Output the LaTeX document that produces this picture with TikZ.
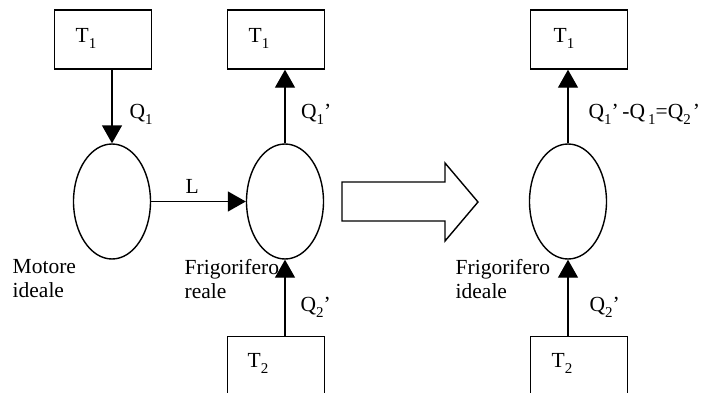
\documentclass[tikz,border=0pt]{standalone}
\usepackage{fontspec}
\setmainfont{Liberation Serif}
\usetikzlibrary{arrows.meta,shapes.geometric}
\newcommand{\sbs}[1]{\raisebox{-6pt}{\fontsize{15}{15}\selectfont #1}}
\begin{document}
\begin{tikzpicture}[x=1pt,y=-1pt,line width=1.4pt,
  res/.style={draw,rectangle,minimum width=97pt,minimum height=59pt,inner sep=0pt},
  mach/.style={draw,ellipse,minimum width=77pt,minimum height=115pt,inner sep=0pt},
  lab/.style={anchor=base west,inner sep=0pt,font=\fontsize{21.5}{23.5}\selectfont},
  note/.style={anchor=north west,inner sep=0pt,align=left,font=\fontsize{21.5}{23.5}\selectfont},
  flow/.style={-{Triangle[length=18pt,width=20pt]}}]
\clip (0,0) rectangle (713,392);
% reservoirs
\node[res] (h1) at (103,39.5) {};
\node[res] (h2) at (276,39.5) {};
\node[res] (h3) at (579,39.5) {};
\node[res] (c2) at (276,366) {};
\node[res] (c3) at (579,366) {};
% machines
\node[mach] (e1) at (112,201.5) {};
\node[mach] (e2) at (285,201.5) {};
\node[mach] (e3) at (568,201.5) {};
% reservoir labels
\node[lab] (th1) at (75,42.5) {T\sbs{1}};
\node[lab] (th2) at (248,42.5) {T\sbs{1}};
\node[lab] (th3) at (553,42.5) {T\sbs{1}};
\node[lab] (tc2) at (247,367) {T\sbs{2}};
\node[lab] (tc3) at (551,367) {T\sbs{2}};
% flows
\draw[flow] (h1.south -| e1.north) -- (e1.north);
\draw[flow] (e2.north) -- (e2.north |- h2.south);
\draw[flow] (c2.north -| e2.south) -- (e2.south);
\draw[flow] (e1.east) -- (e2.west);
\draw[flow] (e3.north) -- (e3.north |- h3.south);
\draw[flow] (c3.north -| e3.south) -- (e3.south);
% flow labels
\node[lab] (q1) at (129,118) {Q\sbs{1}};
\node[lab] (q1p) at (300.5,118) {Q\sbs{1}’};
\node[lab] (q2p) at (300,311.5) {Q\sbs{2}’};
\node[lab] (lw) at (185,193.5) {L};
\node[lab] (q12) at (588,118) {Q\sbs{1}’\,-Q\hspace{3pt}\sbs{1}=Q\sbs{2}\hspace{2pt}’};
\node[lab] (q2i) at (589,311.5) {Q\sbs{2}’};
% captions
\node[note] (m1) at (12,259) {Motore\\ideale};
\node[note] (m2) at (184,259) {Frigorifero\\reale};
\node[note] (m3) at (455,259) {Frigorifero\\ideale};
% big arrow
\draw (342,182) -- (445,182) -- (445,163) -- (478,202) -- (445,241) -- (445,221) -- (342,221) -- cycle;
\end{tikzpicture}
\end{document}
